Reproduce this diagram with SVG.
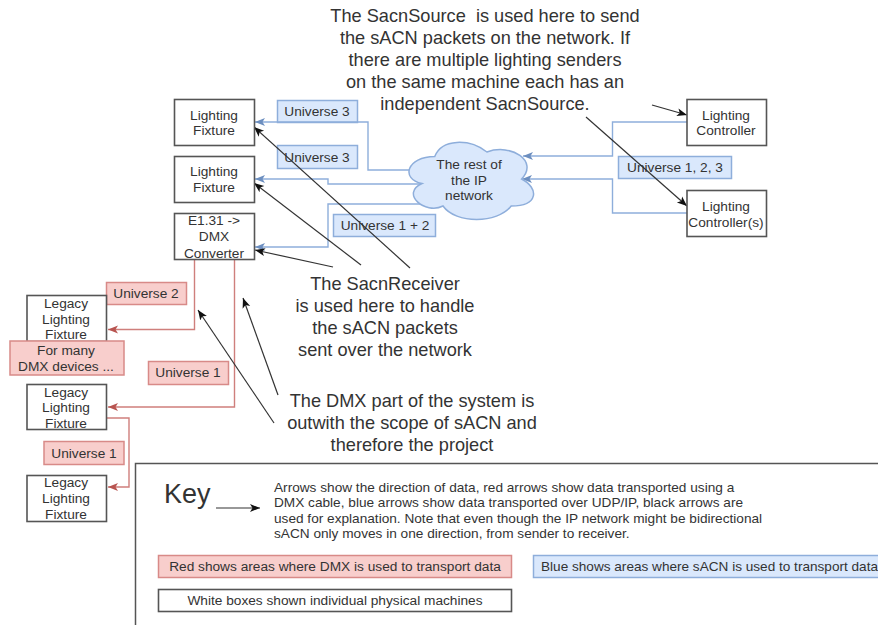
<svg xmlns="http://www.w3.org/2000/svg" width="878" height="625" viewBox="0 0 878 625">
<style>
text{font-family:"Liberation Sans",Arial,sans-serif;fill:#333;text-anchor:middle}
.n{fill:#fff;stroke:#555;stroke-width:1.6}
.b{fill:#dae8fc;stroke:#8eaedb;stroke-width:1.5}
.r{fill:#f8cecc;stroke:#d88a88;stroke-width:1.5}
.t{font-size:13.7px}
.big{font-size:18.2px;white-space:pre}
.k{font-size:13.65px;text-anchor:start}
.cb,.cr,.ck{fill:none}
.cb{stroke:#8eaedb;stroke-width:1.4;marker-end:url(#ab)}
.cr{stroke:#cf7f7c;stroke-width:1.4;marker-end:url(#ar)}
.ck{stroke:#333;stroke-width:1.2;marker-end:url(#ak)}
</style>
<defs>
<marker id="ab" markerUnits="userSpaceOnUse" markerWidth="12" markerHeight="12" refX="10" refY="6" orient="auto"><path d="M0 2L10 6L0 10L2.500 6Z" fill="#6c8ebf"/></marker>
<marker id="ar" markerUnits="userSpaceOnUse" markerWidth="12" markerHeight="12" refX="10" refY="6" orient="auto"><path d="M0 2L10 6L0 10L2.500 6Z" fill="#b85450"/></marker>
<marker id="ak" markerUnits="userSpaceOnUse" markerWidth="12" markerHeight="12" refX="10" refY="6" orient="auto"><path d="M0 2L10 6L0 10L2.500 6Z" fill="#111"/></marker>
</defs>
<g id="key"><path d="M135.500 625V463.500H878" fill="none" stroke="#555" stroke-width="1.5"/>
<text x="164" y="503" font-size="27" style="text-anchor:start">Key</text>
<text class="k" x="274" y="491.500">Arrows show the direction of data, red arrows show data transported using a</text>
<text class="k" x="274" y="507">DMX cable, blue arrows show data transported over UDP/IP, black arrows are</text>
<text class="k" x="274" y="522.500">used for explanation. Note that even though the IP network might be bidirectional</text>
<text class="k" x="274" y="538">sACN only moves in one direction, from sender to receiver.</text>
</g>
<g id="legend-red"><rect class="r" x="158.500" y="555.500" width="353" height="22"/><text class="t" x="335" y="571">Red shows areas where DMX is used to transport data</text></g>
<g id="legend-blue"><rect class="b" x="533.500" y="555.500" width="350" height="22"/><text class="t" x="541" y="571" style="text-anchor:start;font-size:13.6px">Blue shows areas where sACN is used to transport data</text></g>
<g id="legend-white"><rect class="n" x="158.500" y="589.500" width="353" height="22"/><text class="t" x="335" y="605">White boxes shown individual physical machines</text></g>

<g id="u3a"><rect class="b" x="277.500" y="100.500" width="80" height="22"/><text class="t" x="317" y="116">Universe 3</text></g>
<g id="u3b"><rect class="b" x="277.500" y="145.500" width="80" height="23"/><text class="t" x="317" y="162">Universe 3</text></g>
<g id="u12"><rect class="b" x="333.500" y="214.500" width="102" height="22"/><text class="t" x="385" y="230">Universe 1 + 2</text></g>
<g id="u123"><rect class="b" x="618.500" y="156.500" width="113" height="22"/><text class="t" x="675" y="172">Universe 1, 2, 3</text></g>
<g id="u2"><rect class="r" x="106.500" y="282.500" width="80" height="22"/><text class="t" x="146" y="298">Universe 2</text></g>
<g id="u1a"><rect class="r" x="148.500" y="361.500" width="80" height="23"/><text class="t" x="188" y="377">Universe 1</text></g>
<g id="u1b"><rect class="r" x="44" y="441.500" width="80" height="23"/><text class="t" x="84" y="458">Universe 1</text></g>

<g id="connectors">
<path class="cb" d="M415 170H368V122H255"/>
<path class="cb" d="M422 184H328V179H255"/>
<path class="cb" d="M426 204H328V247H255"/>
<path class="cb" d="M687 122H612.500V156H523"/>
<path class="cb" d="M687 213H612.500V179H522"/>
<path class="cr" d="M194.500 259V329.500H108"/>
<path class="cr" d="M234.500 259V407H108"/>
<path class="cr" d="M106 418H129V487H108"/>
<path class="ck" d="M652 105L687 115"/>
<path class="ck" d="M586 117L687 206"/>
<path class="ck" d="M410 268L254 127"/>
<path class="ck" d="M361 265L254 183"/>
<path class="ck" d="M333 267L255 250"/>
<path class="ck" d="M274 423L198 310"/>
<path class="ck" d="M278 395L243 298"/>
<path class="ck" d="M216 508H260"/>
</g>

<g id="fixture1"><rect class="n" x="174.500" y="99.500" width="80" height="46"/><text class="t" x="214" y="120">Lighting</text><text class="t" x="214" y="135">Fixture</text></g>
<g id="fixture2"><rect class="n" x="174.500" y="156.500" width="80" height="46"/><text class="t" x="214" y="176">Lighting</text><text class="t" x="214" y="192">Fixture</text></g>
<g id="converter"><rect class="n" x="174.500" y="213.500" width="80" height="46"/><text class="t" x="214" y="225">E1.31 -&gt;</text><text class="t" x="214" y="241">DMX</text><text class="t" x="214" y="258">Converter</text></g>
<g id="controller1"><rect class="n" x="687" y="99.500" width="79.500" height="46"/><text class="t" x="726" y="120">Lighting</text><text class="t" x="726" y="135">Controller</text></g>
<g id="controller2"><rect class="n" x="687" y="190.500" width="79.500" height="46"/><text class="t" x="726" y="211">Lighting</text><text class="t" x="726" y="227">Controller(s)</text></g>
<g id="legacy1"><rect class="n" x="27" y="295.500" width="79.500" height="46"/><text class="t" x="66" y="308">Legacy</text><text class="t" x="66" y="324">Lighting</text><text class="t" x="66" y="339">Fixture</text></g>
<g id="note-dmx"><rect class="r" x="10" y="341" width="114" height="34"/><text class="t" x="66" y="355">For many</text><text class="t" x="66" y="371">DMX devices ...</text></g>
<g id="legacy2"><rect class="n" x="27" y="384.500" width="79.500" height="45"/><text class="t" x="66" y="397">Legacy</text><text class="t" x="66" y="412">Lighting</text><text class="t" x="66" y="428">Fixture</text></g>
<g id="legacy3"><rect class="n" x="27" y="475.500" width="79.500" height="46"/><text class="t" x="66" y="487">Legacy</text><text class="t" x="66" y="503">Lighting</text><text class="t" x="66" y="519">Fixture</text></g>

<g id="cloud"><path d="M434.750 156.500C407 156.500 400 179 422 183.500C400 193.400 425 215 443 206C455.600 224 497.300 224 511.200 206C539 206 539 188 521.600 179C539 161 511.200 143 486.900 152C469.500 138.500 441.700 138.500 434.750 156.500Z" fill="#dae8fc" stroke="#8eaedb" stroke-width="1.5"/>
<text class="t" x="469" y="169">The rest of</text><text class="t" x="469" y="185">the IP</text><text class="t" x="469" y="200">network</text></g>

<g id="note-source"><text class="big" x="485" y="22" xml:space="preserve">The SacnSource  is used here to send</text><text class="big" x="485" y="44">the sACN packets on the network. If</text><text class="big" x="485" y="66">there are multiple lighting senders</text><text class="big" x="485" y="88">on the same machine each has an</text><text class="big" x="485" y="110">independent SacnSource.</text></g>
<g id="note-receiver"><text class="big" x="385" y="290">The SacnReceiver</text><text class="big" x="385" y="312">is used here to handle</text><text class="big" x="385" y="334">the sACN packets</text><text class="big" x="385" y="356">sent over the network</text></g>
<g id="note-scope"><text class="big" x="412" y="407">The DMX part of the system is</text><text class="big" x="412" y="429">outwith the scope of sACN and</text><text class="big" x="412" y="451">therefore the project</text></g>
</svg>
